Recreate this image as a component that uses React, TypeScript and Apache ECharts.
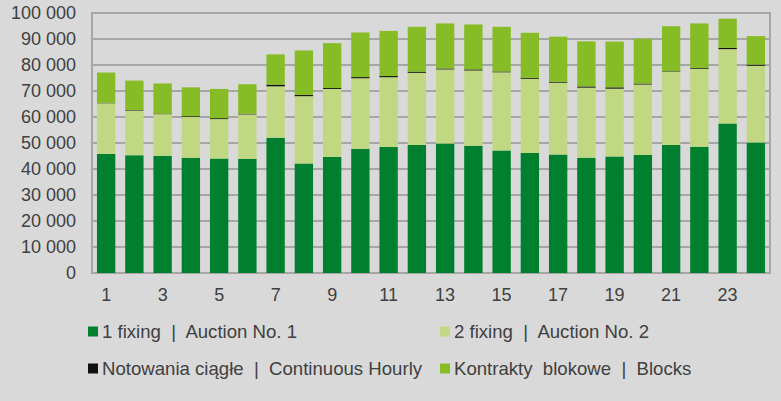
import React, { useEffect, useRef } from "react";
import * as echarts from "echarts";

const hours = Array.from({ length: 24 }, (_, i) => String(i + 1));
const fixing1 = [45800, 45300, 45100, 44300, 44000, 43900, 52000, 42100, 44600, 47800, 48500, 49200, 49800, 48900, 47100, 46200, 45600, 44300, 44800, 45400, 49200, 48600, 57500, 50200];
const fixing2 = [19500, 17200, 16000, 15700, 15200, 17100, 19800, 25900, 26200, 27100, 26800, 27800, 28500, 29000, 30100, 28500, 27600, 27000, 26100, 27100, 28200, 29900, 28600, 29500];
const continuous = [150, 200, 200, 300, 350, 250, 650, 450, 350, 450, 450, 450, 350, 400, 300, 350, 350, 450, 500, 350, 200, 300, 500, 450];
const blocks = [11650, 11300, 11600, 11100, 11250, 11350, 11650, 17150, 17250, 17150, 17350, 17250, 17350, 17300, 17200, 17350, 17350, 17350, 17600, 17250, 17300, 17200, 11200, 10950];

const names = [
  "1 fixing  |  Auction No. 1",
  "2 fixing  |  Auction No. 2",
  "Notowania ciągłe  |  Continuous Hourly",
  "Kontrakty  blokowe  |  Blocks",
];
const colors = ["#00802f", "#c1d882", "#12100c", "#86bc25"];

export default function App() {
  const ref = useRef<HTMLDivElement>(null);
  useEffect(() => {
    if (!ref.current) return;
    const chart = echarts.init(ref.current, null, { renderer: "svg" });
    const font = "'Liberation Sans', Arial, sans-serif";
    const textColor = "#404040";
    const dataSets = [fixing1, fixing2, continuous, blocks];
    const legendBase = {
      orient: "vertical",
      top: 317,
      itemWidth: 10,
      itemHeight: 10,
      itemGap: 18,
      icon: "rect",
      textStyle: { fontSize: 18.6, color: textColor, fontFamily: font, padding: [0, 0, 0, -1] },
    };
    chart.setOption({
      animation: false,
      backgroundColor: "#d9d9d9",
      textStyle: { fontFamily: font },
      grid: {
        left: 92,
        right: 11,
        top: 13,
        bottom: 128,
        show: true,
        borderColor: "#a6a6a6",
        borderWidth: 2,
      },
      legend: [
        { ...legendBase, left: 83, data: [names[0], names[2]] },
        { ...legendBase, left: 435, data: [names[1], names[3]] },
      ],
      xAxis: {
        type: "category",
        data: hours,
        axisTick: { show: false },
        axisLine: { lineStyle: { color: "#a6a6a6", width: 2 } },
        axisLabel: { interval: 1, fontSize: 18, color: textColor, margin: 13, fontFamily: font },
      },
      yAxis: {
        type: "value",
        min: 0,
        max: 100000,
        interval: 10000,
        axisLine: { show: true, lineStyle: { color: "#a6a6a6", width: 2 } },
        splitLine: { lineStyle: { color: "#a6a6a6", width: 2 } },
        axisLabel: {
          fontSize: 18,
          color: textColor,
          margin: 16,
          fontFamily: font,
          formatter: (v: number) => String(v).replace(/\B(?=(\d{3})+(?!\d))/g, " "),
        },
      },
      series: dataSets.map((d, i) => ({
        name: names[i],
        type: "bar",
        stack: "total",
        data: d,
        barCategoryGap: "35%",
        itemStyle: { color: colors[i] },
      })),
    });
    return () => chart.dispose();
  }, []);
  return <div ref={ref} style={{ width: 781, height: 401, position: "absolute", left: 0, top: 0 }} />;
}
